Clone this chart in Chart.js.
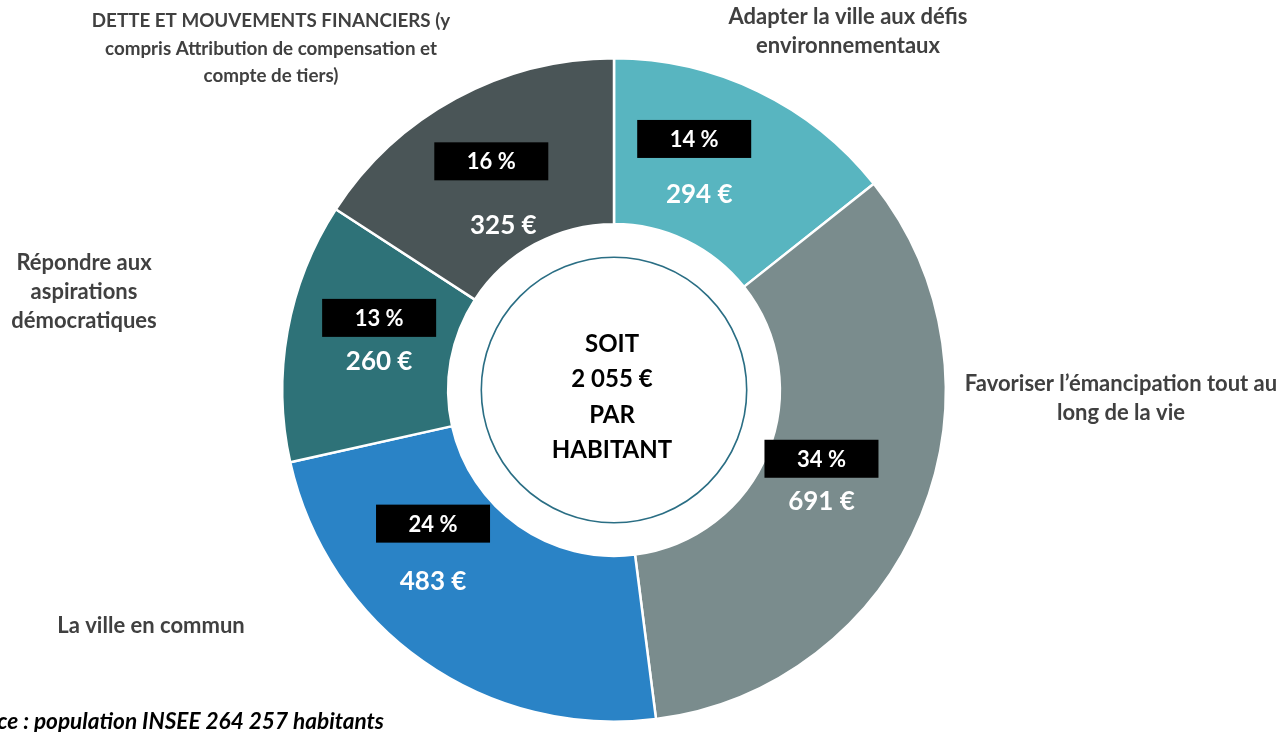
<!DOCTYPE html>
<html>
<head>
<meta charset="utf-8">
<script src="https://cdn.jsdelivr.net/npm/chart.js@4/dist/chart.umd.min.js"></script>
<style>
html,body{margin:0;padding:0;background:#fff;}
#wrap{position:relative;width:1283px;height:732px;}
</style>
</head>
<body>
<div id="wrap"><canvas id="c" width="1283" height="732"></canvas></div>
<script>
const categories = [
  "Adapter la ville aux défis environnementaux",
  "Favoriser l’émancipation tout au long de la vie",
  "La ville en commun",
  "Répondre aux aspirations démocratiques",
  "DETTE ET MOUVEMENTS FINANCIERS (y compris Attribution de compensation et compte de tiers)"
];
const valuesEuro = [294, 691, 483, 260, 325];
const percentLabels = ["14 %", "34 %", "24 %", "13 %", "16 %"];
const valueLabels = ["294 €", "691 €", "483 €", "260 €", "325 €"];
const centerLines = ["SOIT", "2 055 €", "PAR", "HABITANT"];
const sourceText = "Source : population INSEE 264 257 habitants";

const colors = ["#58b5c0", "#7a8c8d", "#2a83c6", "#2e7278", "#4a5557"];

// Outer category label layout (multi-line)
const outerLabelLines = [
  ["Adapter la ville aux défis", "environnementaux"],
  ["Favoriser l’émancipation tout au", "long de la vie"],
  ["La ville en commun"],
  ["Répondre aux", "aspirations", "démocratiques"],
  ["DETTE ET MOUVEMENTS FINANCIERS (y", "compris Attribution de compensation et", "compte de tiers)"]
];
const outerLabelPos = [[848, 17], [1121, 384], [151, 626], [84, 263], [271, 21]];
// offsets from arc centre point: [dx, dyBox, dyValue]
const innerLabelOffsets = [[-28, -27, 29], [-23, -25, 18], [-38, -70, -12], [10, -28, 16], [-4, -10, 54]];

const FONT = "Lato, 'Open Sans', sans-serif";

const labelPlugin = {
  id: 'labelPlugin',
  afterDatasetsDraw(chart) {
    const ctx = chart.ctx;
    const meta = chart.getDatasetMeta(0);
    const arc0 = meta.data[0];
    const cx = arc0.x, cy = arc0.y;
    ctx.save();
    // inner thin ring
    ctx.beginPath();
    ctx.arc(cx, cy, arc0.innerRadius * 0.8, 0, Math.PI * 2);
    ctx.strokeStyle = "#2a6e84";
    ctx.lineWidth = 1.6;
    ctx.stroke();

    // center text
    ctx.fillStyle = "#000";
    ctx.textAlign = "center";
    ctx.textBaseline = "middle";
    ctx.font = "bold 24px " + FONT;
    centerLines.forEach((t, i) => ctx.fillText(t, cx - 2, cy - 46 + i * 35.5));

    // inner labels
    meta.data.forEach((arc, i) => {
      const p = arc.getCenterPoint();
      const o = innerLabelOffsets[i];
      const bx = p.x + o[0], by = p.y + o[1];
      ctx.fillStyle = "#000";
      ctx.fillRect(bx - 57, by - 19, 114, 38);
      ctx.fillStyle = "#fff";
      ctx.font = "bold 22px " + FONT;
      ctx.fillText(percentLabels[i], bx, by + 1);
      ctx.font = "bold 26px " + FONT;
      ctx.fillText(valueLabels[i], p.x + o[0] + (i === 0 ? 5 : (i === 4 ? 12 : 0)), p.y + o[2]);
    });

    // outer labels
    ctx.fillStyle = "#404040";
    outerLabelLines.forEach((lines, i) => {
      const [x, y] = outerLabelPos[i];
      ctx.font = (i === 4 ? "bold 18.8px " : "bold 22px ") + FONT;
      const lh = i === 4 ? 27.5 : 29;
      lines.forEach((t, j) => ctx.fillText(t, x, y + j * lh));
    });

    // source
    ctx.fillStyle = "#000";
    ctx.textAlign = "right";
    ctx.font = "italic bold 22.6px " + FONT;
    ctx.fillText(sourceText, 384, 722);
    ctx.restore();
  }
};

new Chart(document.getElementById('c'), {
  type: 'doughnut',
  data: {
    labels: categories,
    datasets: [{
      data: valuesEuro,
      backgroundColor: colors,
      borderColor: "#ffffff",
      borderWidth: 2.5,
      hoverOffset: 0
    }]
  },
  options: {
    responsive: false,
    animation: false,
    cutout: '50%',
    layout: { padding: { top: 57, bottom: 9, left: 0, right: 55 } },
    plugins: { legend: { display: false }, tooltip: { enabled: false } }
  },
  plugins: [labelPlugin]
});
</script>
</body>
</html>
